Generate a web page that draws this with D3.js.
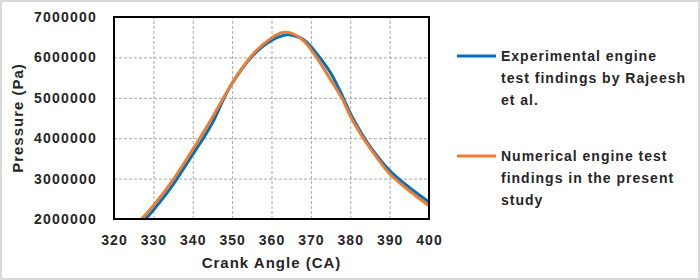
<!DOCTYPE html>
<html>
<head>
<meta charset="utf-8">
<script src="https://cdn.jsdelivr.net/npm/d3@7"></script>
<style>
  body { margin: 0; background: #fff; }
  svg { display: block; font-family: "Liberation Sans", Arial, sans-serif; }
</style>
</head>
<body>
<svg id="chart" width="700" height="280"></svg>
<script>
// crank angle (CA) vs pressure (Pa)
var expAngle = [328, 330, 335, 340, 343, 345, 348, 350, 355, 360, 364, 366, 368, 370, 373, 375, 378, 380, 383, 385, 390, 395, 400];
var expPress = [2000000, 2220000, 2850000, 3600000, 4050000, 4380000, 5000000, 5360000, 6020000, 6420000, 6560000, 6530000, 6450000, 6270000, 5900000, 5620000, 5050000, 4620000, 4100000, 3800000, 3200000, 2780000, 2420000];

var numAngle = [327, 330, 335, 340, 345, 350, 355, 360, 363, 365, 368, 370, 372, 375, 378, 380, 383, 385, 390, 395, 400];
var numPress = [2000000, 2330000, 2970000, 3720000, 4520000, 5360000, 6050000, 6480000, 6620000, 6600000, 6420000, 6200000, 5920000, 5450000, 4970000, 4550000, 4050000, 3760000, 3120000, 2700000, 2330000];

var xTicks = [320, 330, 340, 350, 360, 370, 380, 390, 400];
var yTicks = [2000000, 3000000, 4000000, 5000000, 6000000, 7000000];

var legendItems = [
  { color: "#0070c0", lines: ["Experimental engine", "test findings by Rajeesh", "et al."] },
  { color: "#ed7d31", lines: ["Numerical engine test", "findings in the present", "study"] }
];

var svg = d3.select("#chart");

// outer frame
svg.append("rect")
  .attr("x", 1).attr("y", 1).attr("width", 698).attr("height", 278)
  .attr("fill", "#fff").attr("stroke", "#d9d9d9").attr("stroke-width", 2);

var plotL = 114, plotT = 17, plotR = 429, plotB = 219;
var w = plotR - plotL, h = plotB - plotT;

var x = d3.scaleLinear().domain([320, 400]).range([0, w]);
var y = d3.scaleLinear().domain([2000000, 7000000]).range([h, 0]);

var g = svg.append("g").attr("transform", "translate(" + plotL + "," + plotT + ")");

// grid
g.append("g")
  .attr("transform", "translate(0," + h + ")")
  .call(d3.axisBottom(x).tickValues(xTicks).tickSize(-h).tickFormat(""))
  .call(function (s) { s.select(".domain").remove(); })
  .selectAll("line")
  .attr("stroke", "#a6a6a6").attr("stroke-dasharray", "3,2");

g.append("g")
  .call(d3.axisLeft(y).tickValues(yTicks).tickSize(-w).tickFormat(""))
  .call(function (s) { s.select(".domain").remove(); })
  .selectAll("line")
  .attr("stroke", "#a6a6a6").attr("stroke-dasharray", "3,2");

// tick labels
var xa = g.append("g")
  .attr("transform", "translate(0," + h + ")")
  .call(d3.axisBottom(x).tickValues(xTicks).tickSize(0).tickPadding(16).tickFormat(d3.format("d")));
xa.select(".domain").remove();
xa.selectAll("text")
  .attr("font-family", "Liberation Sans").attr("font-size", "14px").attr("font-weight", "bold")
  .attr("letter-spacing", "1px").attr("fill", "#262626");

var ya = g.append("g")
  .call(d3.axisLeft(y).tickValues(yTicks).tickSize(0).tickPadding(17).tickFormat(d3.format("d")));
ya.select(".domain").remove();
ya.selectAll("text")
  .attr("font-family", "Liberation Sans").attr("font-size", "14px").attr("font-weight", "bold")
  .attr("letter-spacing", "1.2px").attr("fill", "#262626");

// lines
svg.append("defs").append("clipPath").attr("id", "plotclip")
  .append("rect").attr("x", 0).attr("y", 0).attr("width", w).attr("height", h);

var line = d3.line()
  .x(function (d) { return x(d[0]); })
  .y(function (d) { return y(d[1]); })
  .curve(d3.curveCatmullRom.alpha(0.5));

var expData = d3.zip(expAngle, expPress);
var numData = d3.zip(numAngle, numPress);

var lines = g.append("g").attr("clip-path", "url(#plotclip)");
lines.append("path").datum(expData)
  .attr("d", line).attr("fill", "none")
  .attr("stroke", "#0070c0").attr("stroke-width", 3);
lines.append("path").datum(numData)
  .attr("d", line).attr("fill", "none")
  .attr("stroke", "#ed7d31").attr("stroke-width", 3);

// plot border
g.append("rect")
  .attr("width", w).attr("height", h)
  .attr("fill", "none").attr("stroke", "#000").attr("stroke-width", 2);

// axis titles
svg.append("text")
  .attr("x", (plotL + plotR) / 2).attr("y", 268)
  .attr("text-anchor", "middle")
  .attr("font-size", "15px").attr("font-weight", "bold").attr("letter-spacing", "1px")
  .attr("fill", "#262626")
  .text("Crank Angle (CA)");

svg.append("text")
  .attr("transform", "translate(23," + (plotT + plotB) / 2 + ") rotate(-90)")
  .attr("text-anchor", "middle")
  .attr("font-size", "15px").attr("font-weight", "bold").attr("letter-spacing", "1px")
  .attr("fill", "#262626")
  .text("Pressure (Pa)");

// legend
var leg = svg.append("g").selectAll("g")
  .data(legendItems)
  .enter().append("g")
  .attr("transform", function (d, i) { return "translate(457," + (56 + i * 100) + ")"; });

leg.append("line")
  .attr("x1", 0).attr("x2", 39)
  .attr("stroke", function (d) { return d.color; })
  .attr("stroke-width", 3);

leg.selectAll("text")
  .data(function (d) { return d.lines; })
  .enter().append("text")
  .attr("x", 44)
  .attr("y", function (d, i) { return 5 + i * 22; })
  .attr("font-size", "14px").attr("font-weight", "bold").attr("letter-spacing", "1px")
  .attr("fill", "#262626")
  .text(function (d) { return d; });
</script>
</body>
</html>
